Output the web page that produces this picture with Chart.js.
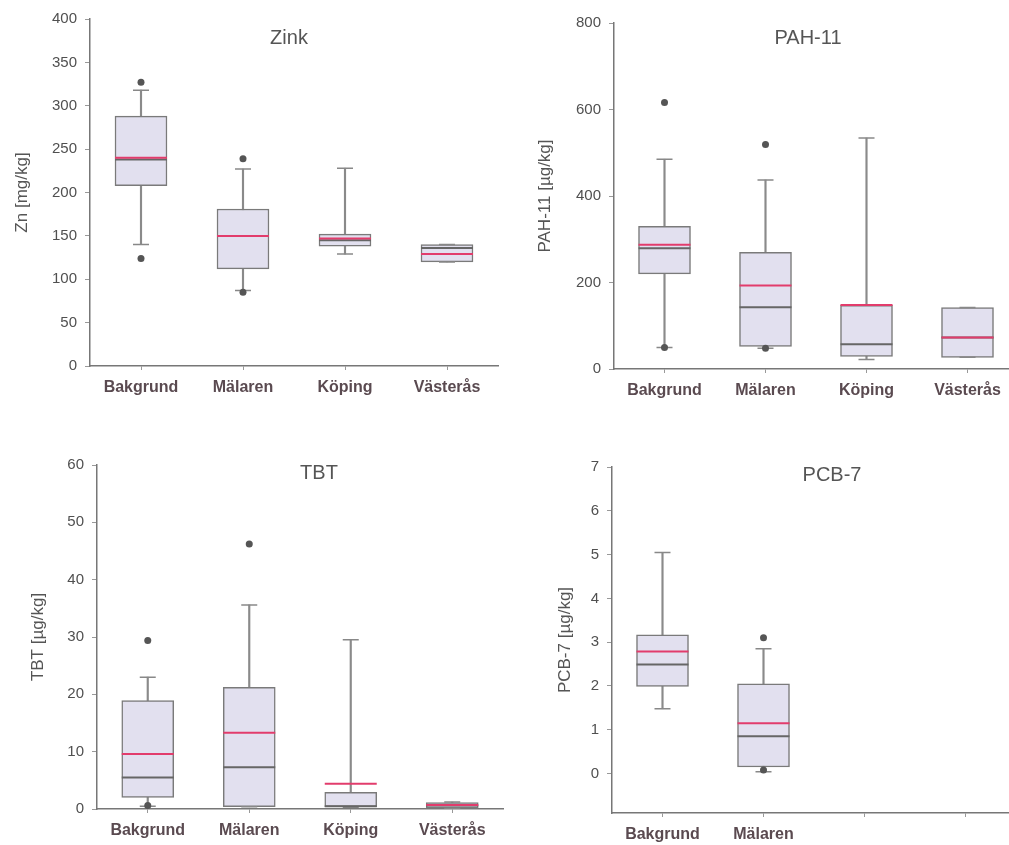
<!DOCTYPE html>
<html>
<head>
<meta charset="utf-8">
<script src="https://cdn.jsdelivr.net/npm/chart.js@4/dist/chart.umd.min.js"></script>
<style>
  html, body { margin: 0; padding: 0; background: #fff; overflow: hidden; }
  body { width: 1009px; height: 845px; position: relative; }
  canvas { position: absolute; }
</style>
</head>
<body>
<canvas id="zink" width="500" height="410" style="left:0;top:0"></canvas>
<canvas id="pah" width="520" height="410" style="left:500px;top:0"></canvas>
<canvas id="tbt" width="510" height="425" style="left:0;top:420px"></canvas>
<canvas id="pcb" width="520" height="425" style="left:500px;top:420px"></canvas>
<script>
const categories = ['Bakgrund', 'Mälaren', 'Köping', 'Västerås'];
const pcbCategories = ['Bakgrund', 'Mälaren', '', ''];

// Zink [mg/kg]
const zinkMin = [140, 87, 129, 120];
const zinkQ1 = [208, 112, 138, 120];
const zinkMedian = [238, 150, 145, 136];
const zinkMean = [240, 150, 147, 129];
const zinkQ3 = [288, 181, 152, 140];
const zinkMax = [318, 227, 228, 140];
const zinkOutliers = [[327, 124], [239, 85], [], []];

// PAH-11 [µg/kg]
const pahMin = [50, 48, 22, 27];
const pahQ1 = [220, 52, 29, 27];
const pahMedian = [279, 143, 57, 73];
const pahMean = [287, 193, 148, 73];
const pahQ3 = [330, 270, 147, 142];
const pahMax = [485, 437, 534, 142];
const pahOutliers = [[616, 50], [519, 48], [], []];

// TBT [µg/kg]
const tbtMin = [0.5, 0.4, 0.3, 0.1];
const tbtQ1 = [2.0, 0.4, 0.4, 0.2];
const tbtMedian = [5.5, 7.3, 0.5, 0.6];
const tbtMean = [9.6, 13.3, 4.4, 0.7];
const tbtQ3 = [18.9, 21.2, 2.9, 1.1];
const tbtMax = [23.0, 35.6, 29.5, 1.2];
const tbtOutliers = [[29.4, 0.6], [46.2], [], []];

// PCB-7 [µg/kg]
const pcbMin = [1.48, 0.04];
const pcbQ1 = [1.99, 0.15];
const pcbMedian = [2.49, 0.85];
const pcbMean = [2.79, 1.15];
const pcbQ3 = [3.17, 2.05];
const pcbMax = [5.05, 2.85];
const pcbOutliers = [[], [3.1, 0.08]];

Chart.defaults.font.family = '"Liberation Sans", Arial, sans-serif';

// title drawn inside the plot area
const panelTitle = {
  id: 'panelTitle',
  afterDraw(chart, args, opts) {
    const ctx = chart.ctx;
    ctx.save();
    ctx.font = '20px "Liberation Sans", Arial, sans-serif';
    ctx.fillStyle = '#555';
    ctx.textAlign = 'center';
    ctx.textBaseline = 'middle';
    ctx.fillText(opts.text, opts.x, opts.y);
    ctx.restore();
  }
};

function boxDatasets(labels, min, q1, median, mean, q3, max, outliers) {
  const pts = [];
  outliers.forEach((list, i) => list.forEach(v => pts.push({ x: labels[i], y: v })));
  const capStyle = { type: 'line', showLine: false, pointStyle: 'line', pointRadius: 8,
    pointBorderColor: '#888', pointBorderWidth: 1.5, order: 4 };
  return [
    { type: 'bar', data: min.map((v, i) => [v, max[i]]), backgroundColor: '#8a8a8a',
      barThickness: 1.5, grouped: false, order: 6 },
    { type: 'bar', data: q1.map((v, i) => [v, q3[i]]), backgroundColor: '#e2e0ef',
      borderColor: '#7a7a7a', borderWidth: 1.5, borderSkipped: false,
      barThickness: 52, grouped: false, order: 5 },
    Object.assign({ data: min }, capStyle),
    Object.assign({ data: max }, capStyle),
    { type: 'line', data: median, showLine: false, pointStyle: 'line', pointRadius: 26,
      pointBorderColor: '#666', pointBorderWidth: 2, order: 3 },
    { type: 'line', data: mean, showLine: false, pointStyle: 'line', pointRadius: 26,
      pointBorderColor: '#e23c6c', pointBorderWidth: 2, order: 2 },
    { type: 'line', data: pts, showLine: false, pointStyle: 'circle', pointRadius: 3.5,
      pointBackgroundColor: '#555', pointBorderWidth: 0, order: 1 }
  ];
}

function makePanel(id, labels, datasets, p) {
  const canvas = document.getElementById(id);
  new Chart(canvas, {
    type: 'bar',
    data: { labels: labels, datasets: datasets },
    plugins: [panelTitle],
    options: {
      responsive: false,
      animation: false,
      layout: { autoPadding: false, padding: { top: p.top, left: 0, right: p.right, bottom: 0 } },
      plugins: {
        legend: { display: false },
        tooltip: { enabled: false },
        panelTitle: { text: p.title, x: p.titleX, y: p.titleY }
      },
      scales: {
        x: {
          offset: true,
          grid: { drawOnChartArea: false, offset: false, tickLength: 4, color: '#999' },
          border: { color: '#777', width: 1.5 },
          ticks: { padding: 8, color: '#5a4a50', font: { size: 16, weight: 'bold' } },
          afterFit: s => {
            s.height = canvas.height - p.axisY;
            s.paddingLeft = 0;
            s.paddingRight = 0;
          }
        },
        y: {
          min: p.min,
          max: p.max,
          grid: { drawOnChartArea: false, tickLength: 5, color: '#999' },
          border: { color: '#777', width: 1.5 },
          ticks: { stepSize: p.step, padding: 8, color: '#505050', font: { size: 15 } },
          afterBuildTicks: s => { s.ticks = s.ticks.filter(t => t.value >= 0); },
          title: { display: true, text: p.yTitle, color: '#555', font: { size: 17 },
            padding: { top: p.yTitlePad, bottom: 0 } },
          afterFit: s => {
            s.width = p.axisX;
            s.paddingTop = 0;
            s.paddingBottom = 0;
          }
        }
      }
    }
  });
}

makePanel('zink', categories,
  boxDatasets(categories, zinkMin, zinkQ1, zinkMedian, zinkMean, zinkQ3, zinkMax, zinkOutliers),
  { title: 'Zink', titleX: 289, titleY: 38, yTitle: 'Zn [mg/kg]', yTitlePad: 12,
    min: 0, max: 400, step: 50, top: 19, right: 2, axisX: 90, axisY: 366 });

makePanel('pah', categories,
  boxDatasets(categories, pahMin, pahQ1, pahMedian, pahMean, pahQ3, pahMax, pahOutliers),
  { title: 'PAH-11', titleX: 308, titleY: 38, yTitle: 'PAH-11 [µg/kg]', yTitlePad: 35,
    min: 0, max: 800, step: 200, top: 23, right: 2, axisX: 114, axisY: 369 });

makePanel('tbt', categories,
  boxDatasets(categories, tbtMin, tbtQ1, tbtMedian, tbtMean, tbtQ3, tbtMax, tbtOutliers),
  { title: 'TBT', titleX: 319, titleY: 53, yTitle: 'TBT [µg/kg]', yTitlePad: 28,
    min: 0, max: 60, step: 10, top: 45, right: 7, axisX: 97, axisY: 389 });

makePanel('pcb', pcbCategories,
  boxDatasets(pcbCategories, pcbMin, pcbQ1, pcbMedian, pcbMean, pcbQ3, pcbMax, pcbOutliers),
  { title: 'PCB-7', titleX: 332, titleY: 55, yTitle: 'PCB-7 [µg/kg]', yTitlePad: 55,
    min: -0.9, max: 7, step: 1, top: 47, right: 4, axisX: 112, axisY: 393 });
</script>
</body>
</html>
